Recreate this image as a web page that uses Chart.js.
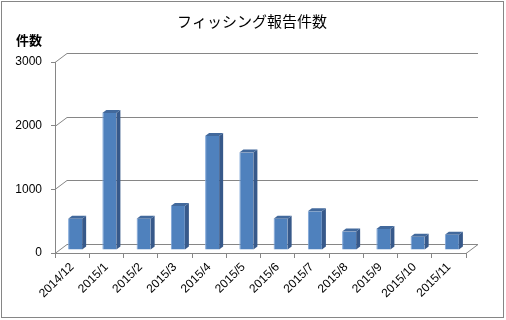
<!DOCTYPE html>
<html>
<head>
<meta charset="utf-8">
<script src="https://cdn.jsdelivr.net/npm/chart.js@4/dist/chart.umd.min.js"></script>
<style>
  html, body { margin: 0; padding: 0; background: #fff; }
  #wrap { width: 506px; height: 320px; }
</style>
</head>
<body>
<div id="wrap"><canvas id="c" width="506" height="320"></canvas></div>
<script>
const months = ['2014/12', '2015/1', '2015/2', '2015/3', '2015/4', '2015/5',
  '2015/6', '2015/7', '2015/8', '2015/9', '2015/10', '2015/11'];
const reports = [490, 2150, 490, 690, 1790, 1530, 490, 610, 290, 330, 210, 240];
const yTicks = [0, 1000, 2000, 3000];

const chartTitle = 'フィッシング報告件数';
const yTitle = '件数';

// depth of the 3d box and of the bars
const DEPTH_X = 12, DEPTH_Y = 9;
const BAR_SHIFT_X = 3, BAR_SHIFT_Y = 3;
const BAR_DX = 4, BAR_DY = 3;
const GRID = '#868686';

const box3d = {
  id: 'box3d',
  beforeDraw(chart) {
    const { ctx } = chart;
    ctx.save();
    ctx.fillStyle = '#fff';
    ctx.fillRect(0, 0, chart.width, chart.height);
    ctx.strokeStyle = GRID;
    ctx.lineWidth = 1;
    ctx.strokeRect(1.5, 1.5, 502, 316);
    ctx.restore();
  },
  beforeDatasetsDraw(chart) {
    const { ctx, chartArea: a, scales: { y } } = chart;
    ctx.save();
    ctx.strokeStyle = GRID;
    ctx.lineWidth = 1;
    yTicks.forEach(v => {
      const py = Math.round(y.getPixelForValue(v)) + 0.5;
      ctx.beginPath();
      ctx.moveTo(a.left, py);
      ctx.lineTo(a.left + DEPTH_X, py - DEPTH_Y);
      ctx.lineTo(a.right + DEPTH_X, py - DEPTH_Y);
      ctx.stroke();
    });
    const pb = Math.round(y.getPixelForValue(0)) + 0.5;
    ctx.beginPath();
    ctx.moveTo(a.right, pb);
    ctx.lineTo(a.right + DEPTH_X, pb - DEPTH_Y);
    ctx.stroke();
    ctx.restore();

    ctx.save();
    ctx.translate(BAR_SHIFT_X, -BAR_SHIFT_Y);
  },
  afterDatasetsDraw(chart) {
    const { ctx } = chart;
    chart.getDatasetMeta(0).data.forEach(bar => {
      const p = bar.getProps(['x', 'y', 'base', 'width'], true);
      const l = p.x - p.width / 2, r = p.x + p.width / 2;
      // side face
      ctx.fillStyle = '#37598a';
      ctx.beginPath();
      ctx.moveTo(r, p.base);
      ctx.lineTo(r, p.y);
      ctx.lineTo(r + BAR_DX, p.y - BAR_DY);
      ctx.lineTo(r + BAR_DX, p.base - BAR_DY);
      ctx.closePath();
      ctx.fill();
      // top face
      ctx.fillStyle = '#42699c';
      ctx.beginPath();
      ctx.moveTo(l, p.y);
      ctx.lineTo(r, p.y);
      ctx.lineTo(r + BAR_DX, p.y - BAR_DY);
      ctx.lineTo(l + BAR_DX, p.y - BAR_DY);
      ctx.closePath();
      ctx.fill();
    });
    ctx.restore();
  },
  afterDraw(chart) {
    const { ctx } = chart;
    ctx.save();
    ctx.fillStyle = '#000';
    ctx.textAlign = 'center';
    ctx.textBaseline = 'middle';
    ctx.font = '15px "Noto Sans CJK JP"';
    ctx.fillText(chartTitle, 252, 21);
    ctx.font = 'bold 13px "Noto Sans CJK JP"';
    ctx.fillText(yTitle, 29, 40);
    ctx.restore();
  }
};

new Chart(document.getElementById('c'), {
  type: 'bar',
  data: {
    labels: months,
    datasets: [{
      data: reports,
      backgroundColor: '#4f81bd',
      borderColor: '#7fa6d8',
      borderWidth: { left: 1, top: 0, right: 0, bottom: 0 },
      borderSkipped: false,
      barPercentage: 0.41,
      categoryPercentage: 1
    }]
  },
  options: {
    responsive: false,
    animation: false,
    events: [],
    layout: { padding: { top: 62, right: 40, left: 0, bottom: 0 } },
    plugins: { legend: { display: false }, tooltip: { enabled: false }, title: { display: false } },
    scales: {
      x: {
        grid: { offset: true, drawOnChartArea: false, color: GRID, tickLength: 5 },
        border: { color: GRID },
        ticks: {
          autoSkip: false, maxRotation: 45, minRotation: 45, padding: 2,
          color: '#000', font: { family: 'Liberation Sans', size: 12 }
        },
        afterFit(s) { s.height = 67; }
      },
      y: {
        min: 0, max: 3000,
        afterBuildTicks(s) { s.ticks = yTicks.map(v => ({ value: v })); },
        grid: { drawOnChartArea: false, color: GRID, tickLength: 4 },
        border: { color: GRID },
        ticks: {
          padding: 9, color: '#000',
          font: { family: 'Liberation Sans', size: 12 },
          callback: v => String(v)
        },
        afterFit(s) { s.width = 55; }
      }
    }
  },
  plugins: [box3d]
});
</script>
</body>
</html>
